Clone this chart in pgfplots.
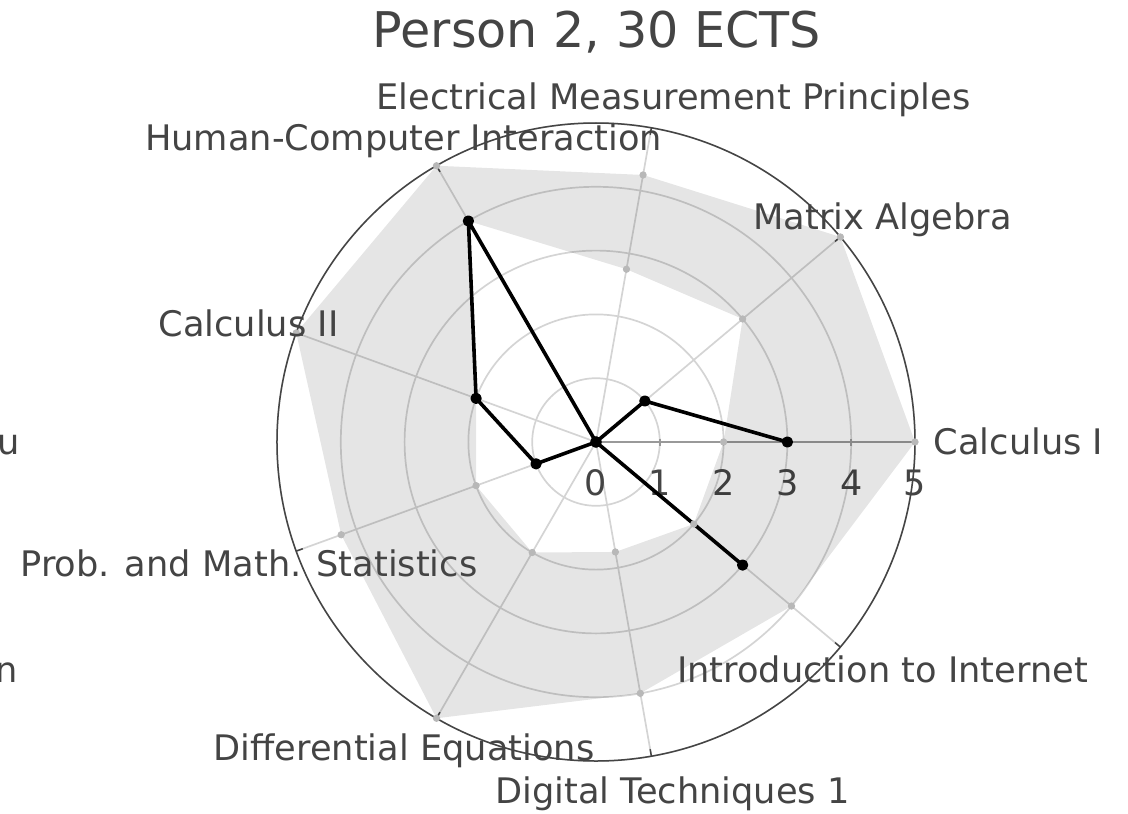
\documentclass[border=0pt]{standalone}
\usepackage{fontspec}
\setmainfont{DejaVu Sans}
\usepackage{pgfplots}
\pgfplotsset{compat=1.18}
\usepgfplotslibrary{polar}
\definecolor{txt}{HTML}{444444}
\definecolor{gridc}{HTML}{D4D4D4}
\definecolor{axc}{HTML}{999999}
\definecolor{bandmark}{HTML}{B8B8B8}

\begin{document}
\begin{tikzpicture}
\begin{polaraxis}[
    name=ax, at={(0,0)}, anchor=center,
    width=319pt, height=319pt, scale only axis,
    xmin=0, xmax=360, ymin=0, ymax=5,
    xtick={0,40,...,320}, xticklabels={},
    ytick={0,1,2,3,4,5},
    grid=major,
    major grid style={gridc, line width=0.85pt},
    x axis line style={txt, line width=0.75pt},
    y axis line style={axc, line width=0.85pt},
    xtick align=outside, ytick align=center,
    major tick length=3.5pt,
    xtick style={txt, line width=0.75pt},
    ytick style={axc, line width=0.85pt},
    /pgf/number format/assume math mode=true,
    yticklabel style={font=\fontsize{17.5}{20}\selectfont, text=txt, anchor=north, yshift=-12pt},
    clip=false,
]
% min--max band (outer ccw, inner back)
\addplot[draw=none, fill=black, fill opacity=0.1] coordinates {
    (0,5) (40,5) (80,4.25) (120,5) (160,5) (200,4.25) (240,5) (280,4) (320,4) (360,5)
    (360,2) (320,2) (280,1.75) (240,2) (200,2) (160,2) (120,4) (80,2.75) (40,3) (0,2)
};
\addplot[only marks, mark=*, mark size=1.6pt, bandmark] coordinates {
    (0,5) (40,5) (80,4.25) (120,5) (160,5) (200,4.25) (240,5) (280,4) (320,4)
};
\addplot[only marks, mark=*, mark size=1.6pt, bandmark] coordinates {
    (0,2) (40,3) (80,2.75) (120,4) (160,2) (200,2) (240,2) (280,1.75) (320,2)
};
% person 2
\addplot[black, line width=1.8pt, line join=round, mark=*, mark size=1.9pt] coordinates {
    (0,3) (40,1) (80,0) (120,4) (160,2) (200,1) (240,0) (280,0) (320,3)
};
\end{polaraxis}

\begin{scope}[every node/.style={font=\fontsize{17.6}{20}\selectfont, text=txt, anchor=base, inner sep=0pt}]
\node at (38.75pt,166.3pt) {Electrical Measurement Principles};
\node at (-96.25pt,145.8pt) {Human-Computer Interaction};
\node at (143.25pt,106.3pt) {Matrix Algebra};
\node at (-173.75pt,52.8pt) {Calculus II};
\node at (211.25pt,-6.2pt) {Calculus I};
\node at (-173.5pt,-67.2pt) {Prob. and Math. Statistics};
\node at (143.25pt,-120.2pt) {Introduction to Internet};
\node at (-96pt,-159.2pt) {Differential Equations};
\node at (38.25pt,-180.7pt) {Digital Techniques 1};
% labels of the neighbouring chart, cut at the left edge
\node[anchor=base east] at (-288pt,-6.2pt) {Calculu};
\node[anchor=base east] at (-289pt,-120.2pt) {Introduction to In};
\end{scope}
\node[font=\fontsize{24.6}{28}\selectfont, text=txt, anchor=base, inner sep=0pt] at (0.5pt,197.25pt) {Person 2, 30 ECTS};

\pgfresetboundingbox
\useasboundingbox (-298pt,-185.5pt) rectangle (266pt,221pt);
\end{tikzpicture}
\end{document}
